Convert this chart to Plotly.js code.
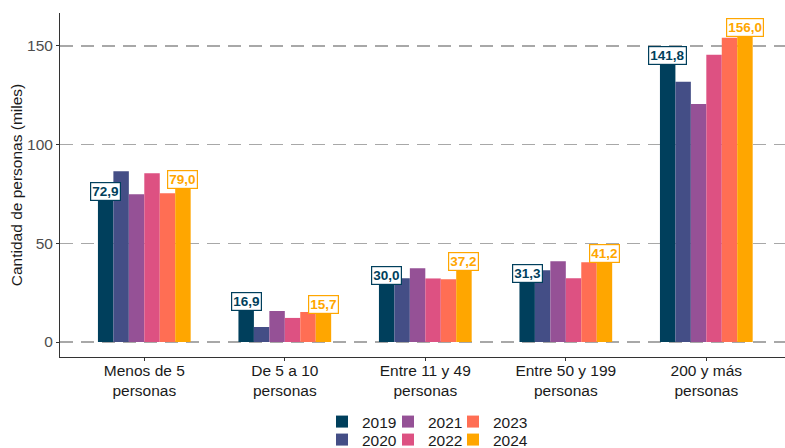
<!DOCTYPE html>
<html>
<head>
<meta charset="utf-8">
<script src="https://cdn.plot.ly/plotly-3.0.1.min.js"></script>
<style>html,body{margin:0;padding:0;background:#fff;}</style>
</head>
<body>
<div id="chart" style="width:785px;height:448px;"></div>
<script>
const categories = ["Menos de 5<br>personas", "De 5 a 10<br>personas", "Entre 11 y 49<br>personas", "Entre 50 y 199<br>personas", "200 y más<br>personas"];
const years = ["2019", "2020", "2021", "2022", "2023", "2024"];
const v2019 = [72.9, 16.9, 30.0, 31.3, 141.8];
const v2020 = [86.5, 7.6, 32.3, 36.3, 131.9];
const v2021 = [74.9, 15.7, 37.4, 40.9, 120.6];
const v2022 = [85.5, 12.2, 32.2, 32.3, 145.5];
const v2023 = [75.4, 15.2, 31.8, 40.4, 154.1];
const v2024 = [79.0, 15.7, 37.2, 41.2, 156.0];
const colors = ["#003f5c", "#444e86", "#955196", "#dd5182", "#ff6e54", "#ffa600"];

const series = [v2019, v2020, v2021, v2022, v2023, v2024];
const legendIds = ["legend", "legend2", "legend3", "legend4", "legend5", "legend6"];
const bargap = 0.34;

const traces = series.map((vals, i) => ({
  type: "bar",
  name: years[i],
  x: categories,
  y: vals,
  marker: {color: colors[i], line: {width: 0}},
  legend: legendIds[i],
  hoverinfo: "skip"
}));

const fmt = v => v.toFixed(1).replace(".", ",");
const nBars = years.length;
const barW = (1 - bargap) / nBars;
function offsetFor(idx) { return -(1 - bargap) / 2 + barW * (idx + 0.5); }

const FONT = "Liberation Sans, Arial, sans-serif";
const annotations = [];
[[0, v2019], [5, v2024]].forEach(([idx, vals]) => {
  vals.forEach((v, c) => {
    annotations.push({
      x: c + offsetFor(idx), y: v, xref: "x", yref: "y",
      text: "<b>" + fmt(v) + "</b>",
      showarrow: false, yshift: 7,
      font: {family: FONT, size: 13.5, color: colors[idx]},
      bgcolor: "#ffffff", bordercolor: colors[idx], borderwidth: 1.2, borderpad: 1
    });
  });
});

const W = 785, H = 448;
// legend grid: 3 columns x 2 rows, filled column-wise
const colLeft = [322, 388, 453];
const rowTop = [405, 423];
function legendFor(i) {
  const col = Math.floor(i / 2), row = i % 2;
  return {
    orientation: "h", xanchor: "left", xref: "container", yanchor: "top", yref: "container",
    x: colLeft[col] / W, y: 1 - rowTop[row] / H,
    font: {size: 15.5, color: "#1a1a1a"},
    itemclick: false, bgcolor: "rgba(0,0,0,0)", borderwidth: 0
  };
}

const layout = {
  width: W, height: H,
  margin: {l: 60, r: 0, t: 13, b: 91},
  paper_bgcolor: "#ffffff", plot_bgcolor: "#ffffff",
  font: {family: FONT, size: 15.5, color: "#1a1a1a"},
  barmode: "group", bargap: bargap, bargroupgap: 0,
  xaxis: {
    type: "category", range: [-0.6, 4.56],
    showline: true, linecolor: "#333333", linewidth: 1,
    ticks: "outside", ticklen: 3, tickcolor: "#333333",
    showgrid: false, zeroline: false, ticklabelstandoff: -4,
    tickfont: {size: 15.5, color: "#1a1a1a"}
  },
  yaxis: {
    range: [-7.6, 166.7],
    tickvals: [0, 50, 100, 150],
    showline: true, linecolor: "#333333", linewidth: 1,
    ticks: "outside", ticklen: 3, tickcolor: "#333333",
    showgrid: true, gridcolor: "#a8a8a8", gridwidth: 1.3, griddash: "13px,8px",
    zeroline: false,
    tickfont: {size: 15.5, color: "#4d4d4d"},
    title: {text: "Cantidad de personas (miles)", font: {size: 15.5, color: "#1a1a1a"}, standoff: 0}
  },
  showlegend: true,
  annotations: annotations
};
legendIds.forEach((id, i) => { layout[id] = legendFor(i); });

Plotly.newPlot("chart", traces, layout, {displayModeBar: false, staticPlot: true});
</script>
</body>
</html>
